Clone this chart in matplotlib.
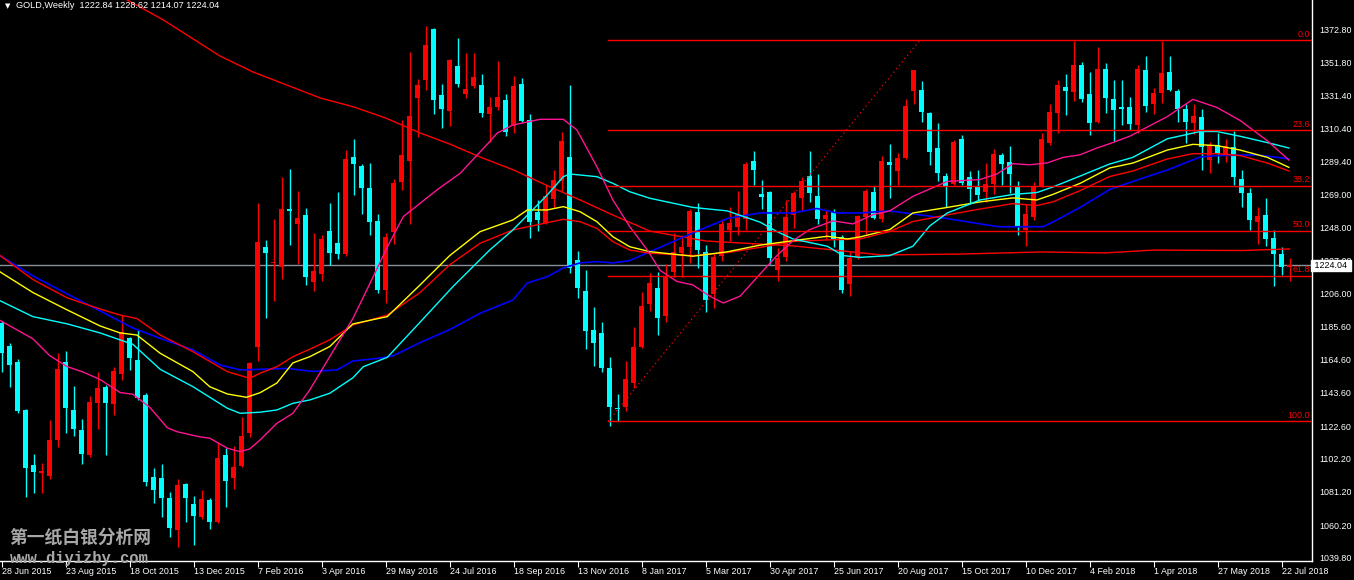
import matplotlib
matplotlib.use("Agg")
import matplotlib.pyplot as plt
import numpy as np

# weekly GOLD candles, 28 Jun 2015 .. 29 Jul 2018 (one row per week)
opens = [1187.5, 1173.2, 1163.1, 1132.8, 1098.1, 1093.1, 1091.4, 1113.9, 1163.1, 1132.8,
         1120.2, 1104.4, 1137.2, 1147.1, 1136.6, 1155.5, 1178.4, 1164.3, 1142.3, 1090.7,
         1089.7, 1077.1, 1057.1, 1086.1, 1073.5, 1065.5, 1076.0, 1062.4, 1104.4, 1089.7,
         1097.7, 1118.1, 1172.8, 1235.4, 1225.3, 1222.8, 1259.4, 1250.2, 1255.8, 1213.8,
         1218.8, 1245.9, 1238.4, 1231.2, 1292.6, 1287.0, 1272.9, 1252.0, 1208.5, 1245.3,
         1276.9, 1289.9, 1329.9, 1341.0, 1373.2, 1331.5, 1321.7, 1349.8, 1332.2, 1337.4,
         1337.8, 1319.6, 1324.2, 1328.4, 1312.0, 1338.5, 1315.8, 1257.9, 1251.0, 1265.9,
         1277.5, 1292.6, 1227.4, 1207.9, 1183.3, 1181.2, 1159.1, 1134.3, 1134.5, 1150.1,
         1172.8, 1199.4, 1209.7, 1192.4, 1219.7, 1231.6, 1235.4, 1257.6, 1232.6, 1205.7,
         1230.2, 1246.1, 1248.5, 1253.6, 1289.8, 1269.3, 1270.4, 1220.9, 1229.1, 1255.9,
         1266.5, 1280.5, 1267.6, 1253.1, 1257.8, 1241.9, 1212.0, 1228.6, 1254.3, 1270.4,
         1253.6, 1289.4, 1283.5, 1291.7, 1334.2, 1334.7, 1320.2, 1298.0, 1280.3, 1275.3,
         1303.6, 1280.0, 1273.5, 1270.4, 1275.1, 1293.8, 1289.4, 1273.9, 1246.6, 1254.3,
         1273.5, 1301.5, 1320.2, 1336.6, 1333.5, 1350.4, 1331.9, 1314.4, 1347.8, 1328.9,
         1323.7, 1323.7, 1312.5, 1347.6, 1325.6, 1333.1, 1345.9, 1334.2, 1322.5, 1313.9,
         1317.9, 1290.5, 1299.7, 1293.3, 1298.7, 1278.4, 1270.0, 1251.7, 1255.9, 1241.2,
         1231.4, 1222.84]
highs = [1189.0, 1175.3, 1164.8, 1133.4, 1104.8, 1099.2, 1126.5, 1168.6, 1170.0, 1148.0,
         1127.1, 1141.6, 1157.0, 1148.6, 1160.1, 1192.7, 1179.1, 1183.3, 1143.3, 1096.0,
         1098.6, 1081.3, 1089.1, 1086.5, 1078.6, 1082.3, 1077.1, 1112.8, 1108.6, 1110.1,
         1128.6, 1163.3, 1263.2, 1240.1, 1253.1, 1279.6, 1284.6, 1271.0, 1260.0, 1244.3,
         1243.2, 1263.2, 1270.3, 1296.8, 1304.0, 1288.0, 1288.4, 1256.5, 1244.3, 1278.5,
         1315.8, 1358.9, 1341.4, 1375.1, 1373.6, 1338.5, 1354.0, 1367.3, 1357.8, 1358.2,
         1344.8, 1330.1, 1353.0, 1332.2, 1343.5, 1342.1, 1319.4, 1265.3, 1274.8, 1284.2,
         1308.4, 1337.9, 1233.1, 1221.1, 1197.6, 1188.5, 1166.5, 1142.9, 1163.9, 1185.4,
         1207.5, 1219.0, 1219.7, 1225.1, 1244.7, 1243.1, 1259.5, 1263.4, 1236.8, 1231.4,
         1253.1, 1261.1, 1271.1, 1289.1, 1296.1, 1278.1, 1271.1, 1234.9, 1265.3, 1271.1,
         1279.8, 1296.1, 1281.7, 1258.8, 1259.5, 1243.1, 1233.0, 1255.9, 1272.3, 1274.2,
         1292.9, 1300.8, 1295.2, 1328.9, 1347.5, 1340.5, 1320.9, 1313.9, 1282.1, 1303.1,
         1306.2, 1283.5, 1284.0, 1288.7, 1297.3, 1294.7, 1299.2, 1277.0, 1262.5, 1276.5,
         1307.8, 1325.6, 1341.2, 1344.7, 1365.8, 1352.2, 1345.9, 1361.8, 1351.8, 1341.2,
         1341.2, 1330.3, 1350.6, 1356.4, 1335.9, 1365.8, 1356.4, 1335.4, 1325.6, 1325.6,
         1322.5, 1302.0, 1307.4, 1303.9, 1309.0, 1284.0, 1272.8, 1261.1, 1266.5, 1246.1,
         1235.4, 1228.62]
lows = [1157.0, 1147.1, 1131.1, 1077.7, 1080.2, 1080.6, 1089.5, 1109.7, 1118.1, 1116.4,
        1098.7, 1102.9, 1120.8, 1104.4, 1129.6, 1151.7, 1158.0, 1139.1, 1085.1, 1074.3,
        1065.0, 1052.9, 1046.6, 1062.3, 1047.6, 1063.8, 1057.7, 1061.7, 1071.4, 1082.8,
        1097.1, 1115.6, 1163.9, 1191.0, 1201.8, 1215.5, 1236.9, 1224.9, 1211.7, 1208.1,
        1214.4, 1224.3, 1227.9, 1230.0, 1268.4, 1256.5, 1243.2, 1206.8, 1200.1, 1237.5,
        1271.6, 1250.2, 1305.3, 1334.7, 1319.6, 1310.9, 1312.0, 1336.8, 1329.9, 1335.7,
        1317.9, 1302.1, 1322.1, 1305.9, 1307.8, 1314.3, 1241.5, 1246.0, 1250.2, 1260.1,
        1271.2, 1219.0, 1203.3, 1171.1, 1160.8, 1157.0, 1122.7, 1125.9, 1132.4, 1146.5,
        1171.7, 1195.2, 1180.0, 1188.2, 1216.7, 1216.7, 1225.6, 1222.5, 1194.7, 1197.1,
        1226.7, 1239.1, 1243.1, 1246.6, 1274.6, 1259.5, 1225.1, 1213.9, 1226.7, 1247.8,
        1258.8, 1264.1, 1250.1, 1240.8, 1235.4, 1206.4, 1204.5, 1227.9, 1243.8, 1253.6,
        1251.3, 1266.5, 1274.6, 1291.0, 1325.6, 1314.8, 1287.5, 1277.0, 1260.6, 1274.6,
        1274.6, 1262.9, 1265.3, 1264.1, 1268.8, 1274.6, 1269.5, 1243.1, 1236.1, 1252.5,
        1273.5, 1300.3, 1307.8, 1319.0, 1327.9, 1327.2, 1306.2, 1313.7, 1320.2, 1302.2,
        1312.5, 1309.2, 1307.3, 1320.9, 1319.7, 1326.5, 1334.2, 1314.4, 1301.5, 1306.9,
        1284.0, 1282.1, 1288.7, 1289.4, 1274.6, 1260.6, 1246.6, 1237.3, 1236.1, 1210.9,
        1217.9, 1214.07]
closes = [1168.6, 1161.2, 1132.4, 1096.4, 1093.7, 1094.3, 1113.9, 1158.7, 1134.3, 1121.0,
          1105.0, 1137.8, 1146.9, 1137.4, 1157.4, 1182.2, 1165.4, 1140.2, 1087.4, 1082.3,
          1077.0, 1058.2, 1085.5, 1077.5, 1066.1, 1076.7, 1061.9, 1102.3, 1088.2, 1096.6,
          1116.4, 1162.3, 1238.6, 1232.1, 1225.7, 1259.4, 1258.3, 1253.9, 1216.9, 1220.5,
          1240.6, 1232.1, 1231.2, 1291.2, 1288.0, 1273.1, 1251.6, 1208.5, 1242.2, 1276.2,
          1293.7, 1318.3, 1337.8, 1363.1, 1328.4, 1322.7, 1353.6, 1338.5, 1335.3, 1343.1,
          1320.4, 1323.8, 1330.1, 1308.0, 1337.2, 1315.4, 1251.6, 1252.7, 1267.8, 1277.9,
          1302.5, 1222.2, 1209.6, 1182.9, 1174.9, 1159.5, 1134.5, 1133.4, 1152.4, 1172.8,
          1198.6, 1212.7, 1191.0, 1216.7, 1232.6, 1235.4, 1258.3, 1233.5, 1202.2, 1229.1,
          1250.1, 1250.8, 1255.9, 1288.0, 1284.0, 1266.9, 1228.6, 1228.6, 1254.3, 1269.5,
          1277.4, 1270.0, 1253.6, 1255.9, 1240.8, 1208.7, 1228.6, 1255.2, 1270.9, 1254.1,
          1289.8, 1287.5, 1291.5, 1324.9, 1347.1, 1320.9, 1295.7, 1282.4, 1274.2, 1302.0,
          1275.8, 1272.3, 1268.3, 1275.3, 1294.5, 1288.2, 1281.7, 1248.9, 1256.4, 1273.9,
          1303.8, 1320.9, 1337.7, 1334.2, 1350.6, 1328.9, 1313.9, 1347.8, 1329.6, 1322.1,
          1322.5, 1313.2, 1347.8, 1324.9, 1332.6, 1345.2, 1334.9, 1322.5, 1314.4, 1318.6,
          1298.5, 1300.3, 1294.5, 1299.2, 1279.8, 1270.0, 1252.4, 1255.2, 1240.8, 1230.9,
          1222.8, 1224.04]

date_labels = ["28 Jun 2015", "23 Aug 2015", "18 Oct 2015", "13 Dec 2015", "7 Feb 2016",
               "3 Apr 2016", "29 May 2016", "24 Jul 2016", "18 Sep 2016", "13 Nov 2016",
               "8 Jan 2017", "5 Mar 2017", "30 Apr 2017", "25 Jun 2017", "20 Aug 2017",
               "15 Oct 2017", "10 Dec 2017", "4 Feb 2018", "1 Apr 2018", "27 May 2018",
               "22 Jul 2018"]
price_labels = [1372.80, 1351.80, 1331.40, 1310.40, 1289.40, 1269.00, 1248.00, 1227.00,
                1206.00, 1185.60, 1164.60, 1143.60, 1122.60, 1102.20, 1081.20, 1060.20, 1039.80]

# moving averages (bar index, price)
ma_long_x = [0, 15.7, 20.2, 27.3, 31.4, 35.6, 39.8, 44, 48, 52.3, 56, 59.8, 64, 68, 72.3,
             76.4, 81, 88, 99, 110, 120, 130, 138, 144, 155, 161]
ma_long_y = [1435.6, 1391.5, 1378.9, 1356.1, 1346.1, 1337.9, 1329.7, 1324.0, 1317.0, 1307.6,
             1300.6, 1292.4, 1284.2, 1274.8, 1265.3, 1255.8, 1245.7, 1239.4, 1236.3, 1230.6,
             1231.2, 1232.5, 1231.9, 1233.7, 1233.4, 1234.4]
ma_blue_x = [-0.2, 3.9, 8.2, 12.3, 16.4, 19.8, 23.9, 27.3, 29.8, 31.4, 35.7, 38.9, 41.9, 43.9,
             46.9, 48.9, 52.3, 56, 59.8, 63.9, 65.7, 68.2, 70.2, 72.3, 74.4, 76.4, 78.5, 81,
             82.3, 86.4, 90.7, 94.8, 98.9, 101.9, 104.4, 107.3, 111, 113.9, 118.2, 122.3,
             124.8, 130.2, 131.4, 134.8, 138.5, 141.4, 145.7, 149.8, 151.9, 156.9, 160.9]
ma_blue_y = [1230.2, 1217.4, 1206.0, 1195.3, 1184.5, 1178.0, 1170.7, 1161.2, 1158.1, 1158.3,
             1159.0, 1157.1, 1158.1, 1163.7, 1165.3, 1166.9, 1175.3, 1183.5, 1193.8, 1202.2,
             1212.9, 1216.9, 1222.4, 1225.6, 1226.4, 1225.6, 1227.0, 1232.7, 1235.4, 1244.5,
             1253.6, 1257.1, 1257.1, 1259.9, 1257.1, 1257.1, 1258.4, 1256.5, 1253.6, 1250.2,
             1248.3, 1248.5, 1251.4, 1260.6, 1271.9, 1277.0, 1284.2, 1292.4, 1293.3, 1293.8,
             1291.2]
ma_red_x = [-0.2, 3.9, 8.2, 12.3, 14.8, 16.9, 19.8, 23.9, 28.2, 31, 32.3, 34.4, 36.4, 38.5,
            41, 43.9, 48.2, 52.3, 56, 59.8, 63.9, 68.2, 70.2, 72.3, 74.4, 76.4, 78.5, 81,
            86.4, 90.7, 94.8, 98.9, 103.2, 107.3, 111, 113.9, 118.2, 122.3, 126.4, 129.4,
            131.4, 134.8, 138.5, 141.4, 145.7, 148.9, 151.9, 154.8, 158.2, 160.9]
ma_red_y = [1230.2, 1215.1, 1203.5, 1196.5, 1192.7, 1190.5, 1180.1, 1169.6, 1157.0, 1152.8,
            1156.0, 1160.1, 1166.4, 1171.1, 1177.0, 1186.4, 1192.7, 1206.9, 1224.4, 1238.0,
            1246.4, 1251.0, 1253.1, 1251.6, 1247.4, 1239.0, 1233.7, 1231.7, 1230.2, 1232.1,
            1235.4, 1239.1, 1240.1, 1240.7, 1245.4, 1251.7, 1255.9, 1259.6, 1263.0, 1261.8,
            1264.1, 1271.2, 1280.1, 1283.6, 1291.2, 1294.5, 1294.5, 1293.3, 1288.6, 1283.6]
ma_yellow_x = [-0.2, 3.9, 8.2, 12.3, 14.8, 16.9, 19.8, 23.9, 26, 28.2, 30.6, 32.3, 34.4, 36.4,
               38.5, 41, 43.9, 48.2, 52.3, 56, 59.8, 63.9, 65.7, 68.2, 70.2, 72.3, 74.4, 76.4,
               78.5, 81, 86.4, 90.7, 94.8, 98.9, 103.2, 105.7, 107.3, 111, 113.9, 118.2,
               122.3, 126.4, 129.4, 131.4, 134.8, 138.5, 141.4, 145.7, 148.9, 151.9, 154.8,
               158.2, 160.9]
ma_yellow_y = [1219.9, 1206.9, 1195.9, 1185.8, 1181.4, 1180.1, 1168.6, 1157.0, 1147.5, 1142.9,
               1140.8, 1143.7, 1149.8, 1162.5, 1166.4, 1172.8, 1187.1, 1191.7, 1211.7, 1230.2,
               1245.3, 1252.7, 1259.0, 1259.0, 1261.1, 1257.9, 1251.6, 1242.1, 1235.8, 1232.7,
               1229.8, 1232.6, 1236.8, 1239.6, 1242.4, 1240.7, 1242.0, 1246.6, 1257.1, 1260.6,
               1264.1, 1266.6, 1265.3, 1268.8, 1275.8, 1285.5, 1288.6, 1296.8, 1300.4, 1299.6,
               1296.8, 1292.2, 1285.9]
ma_cyan_x = [-0.2, 3.9, 8.2, 12.3, 16.4, 19.8, 23.9, 28.2, 29.8, 32.3, 34.4, 36.4, 38.5, 41,
             43.9, 45.2, 48.2, 52.3, 56.4, 61, 63.9, 68.2, 70.2, 71, 74.4, 76.4, 78.5, 81,
             86.4, 90.7, 94.8, 96.9, 98.9, 103.2, 105.2, 107.3, 111, 113.9, 116, 118.2, 122.3,
             126.4, 129.4, 131.4, 134.8, 138.5, 141.4, 145.7, 149.8, 151.9, 154.8, 158.2, 160.9]
ma_cyan_y = [1201.7, 1191.7, 1187.1, 1181.4, 1174.2, 1158.5, 1147.5, 1133.9, 1130.7, 1131.4,
             1132.8, 1137.0, 1139.1, 1143.3, 1153.1, 1160.1, 1166.0, 1188.2, 1210.6, 1233.7,
             1246.4, 1268.5, 1280.0, 1281.7, 1280.0, 1275.8, 1270.5, 1266.4, 1260.6, 1258.4,
             1251.3, 1245.4, 1240.7, 1236.1, 1230.2, 1229.1, 1230.2, 1236.1, 1248.9, 1257.1,
             1265.3, 1268.8, 1270.0, 1273.5, 1280.4, 1288.0, 1292.2, 1303.9, 1308.5, 1308.5,
             1305.5, 1301.5, 1298.1]
ma_pink_x = [-0.2, 3.9, 6, 8.2, 10.2, 12.3, 14.8, 16.4, 18.5, 20.7, 21.9, 24.8, 26, 28.2, 29.8,
             31, 32.3, 34.4, 36.4, 38.5, 41, 43.9, 46, 48.2, 50.2, 54.4, 57.3, 61, 61.9, 63.9,
             67.3, 70.2, 71.9, 74.4, 76.4, 78.5, 80.7, 82.3, 84.4, 86.4, 88.5, 90.2, 92.3,
             94.8, 96.9, 98.9, 101, 103.9, 106.4, 108.9, 111, 113.9, 118.2, 122.3, 124.4,
             126.4, 128.5, 130.7, 132.7, 134.8, 136.9, 138.5, 141, 145.7, 148.9, 151.9, 154.8,
             158.2, 160.9]
ma_pink_y = [1189.3, 1177.7, 1167.1, 1160.1, 1156.7, 1152.0, 1143.8, 1142.7, 1134.5, 1121.6,
             1119.1, 1115.8, 1115.0, 1108.7, 1106.5, 1108.2, 1113.9, 1124.4, 1130.7, 1145.4,
             1166.4, 1190.5, 1212.3, 1235.6, 1254.8, 1271.6, 1282.1, 1302.1, 1307.4, 1312.6,
             1316.2, 1316.2, 1309.5, 1286.3, 1265.3, 1248.5, 1233.8, 1220.9, 1213.9, 1211.7,
             1204.6, 1200.3, 1204.6, 1218.6, 1230.2, 1239.6, 1246.6, 1252.1, 1250.2, 1256.0,
             1258.4, 1267.6, 1277.0, 1278.2, 1281.7, 1288.2, 1287.5, 1288.7, 1292.2, 1293.8,
             1298.1, 1300.8, 1305.5, 1317.9, 1328.8, 1323.7, 1315.5, 1302.7, 1290.5]

# fibonacci retracement drawn from the Dec 2016 low to the 2018 high
fib_low = 1125.6
fib_high = 1366.2
fib_levels = [0.0, 23.6, 38.2, 50.0, 61.8, 100.0]
fib_start_bar = 75.8
fib_end_bar = 114.8

last_price = 1224.04
header = "GOLD,Weekly  1222.84 1228.62 1214.07 1224.04"

W, H = 1354, 580
plt.rcParams["font.family"] = ["Liberation Sans", "DejaVu Sans"]
fig = plt.figure(figsize=(W / 100, H / 100), dpi=100, facecolor="black")
ax = fig.add_axes([0, 19 / H, 1312 / W, 561 / H], facecolor="black")

n = len(closes)
idx = np.arange(n)
o = np.array(opens)
c = np.array(closes)
up = c >= o
cols = np.where(up, "#ff0000", "#00ffff")

# bid line
ax.axhline(last_price, color="#8a8f9c", lw=1, zorder=1)

ax.vlines(idx, lows, highs, colors=cols, lw=1, zorder=2)
body_lo = np.minimum(o, c)
body_h = np.maximum(np.abs(c - o), 0.7)
ax.bar(idx, body_h, bottom=body_lo, width=0.62, color=cols, lw=0, zorder=3)

ax.plot(ma_long_x, ma_long_y, color="#ff0000", lw=1, zorder=4)
ax.plot(ma_blue_x, ma_blue_y, color="#0000ff", lw=1.2, zorder=4)
ax.plot(ma_red_x, ma_red_y, color="#ff0000", lw=1, zorder=4)
ax.plot(ma_yellow_x, ma_yellow_y, color="#ffff00", lw=1, zorder=4)
ax.plot(ma_cyan_x, ma_cyan_y, color="#00ffff", lw=1, zorder=4)
ax.plot(ma_pink_x, ma_pink_y, color="#ff1493", lw=1, zorder=4)

# fib levels
rng = fib_high - fib_low
for lv in fib_levels:
    p = fib_high - rng * lv / 100
    ax.plot([fib_start_bar, 170], [p, p], color="#ff0000", lw=1, zorder=5)
    ax.text(163.5, p + 0.8, "%.1f" % lv, color="#ff0000", fontsize=6.4,
            ha="right", va="bottom", zorder=6)
ax.plot([fib_start_bar, fib_end_bar], [fib_low, fib_high], color="#ff0000", lw=0.9,
        ls=(0, (1, 2.5)), zorder=5)

ax.set_xlim(-0.2125, 163.79)
ax.set_ylim(1037.5, 1391.48)

for s in ["left", "top"]:
    ax.spines[s].set_visible(False)
for s in ["right", "bottom"]:
    ax.spines[s].set_color("white")
    ax.spines[s].set_linewidth(1)

ax.yaxis.tick_right()
ax.set_yticks(price_labels)
ax.set_yticklabels(["%.2f" % v for v in price_labels], color="white", fontsize=6.4)
ax.tick_params(axis="y", length=0, pad=5)

ax.set_xticks(np.arange(0, 161, 8))
ax.set_xticklabels(date_labels, color="white", fontsize=6.4, ha="left")
ax.tick_params(axis="x", length=4, color="white", pad=0.5)

# current price box on the price scale
ax.text(1.0, last_price, " %.2f " % last_price, transform=ax.get_yaxis_transform(),
        color="black", fontsize=6.4, va="center", ha="left", zorder=10, clip_on=False,
        bbox=dict(boxstyle="square,pad=0.15", fc="white", ec="white"))

fig.text(5 / W, 1 - 6 / H, "\u25bc", color="white", fontsize=5, va="center",
         family="DejaVu Sans")
fig.text(16 / W, 1 - 6 / H, header, color="white", fontsize=6.6, va="center")

fig.text(9 / W, 1 - 538 / H, "第一纸白银分析网", color="#a8a8a8", fontsize=12.8,
         va="center", weight="bold", family=["Noto Sans CJK SC", "DejaVu Sans"])
fig.text(10 / W, 1 - 559 / H, "www.diyizby.com", color="#a8a8a8", fontsize=11.2,
         va="center", family="Liberation Mono", weight="bold")

fig.savefig("out.png", dpi=100, facecolor="black")
